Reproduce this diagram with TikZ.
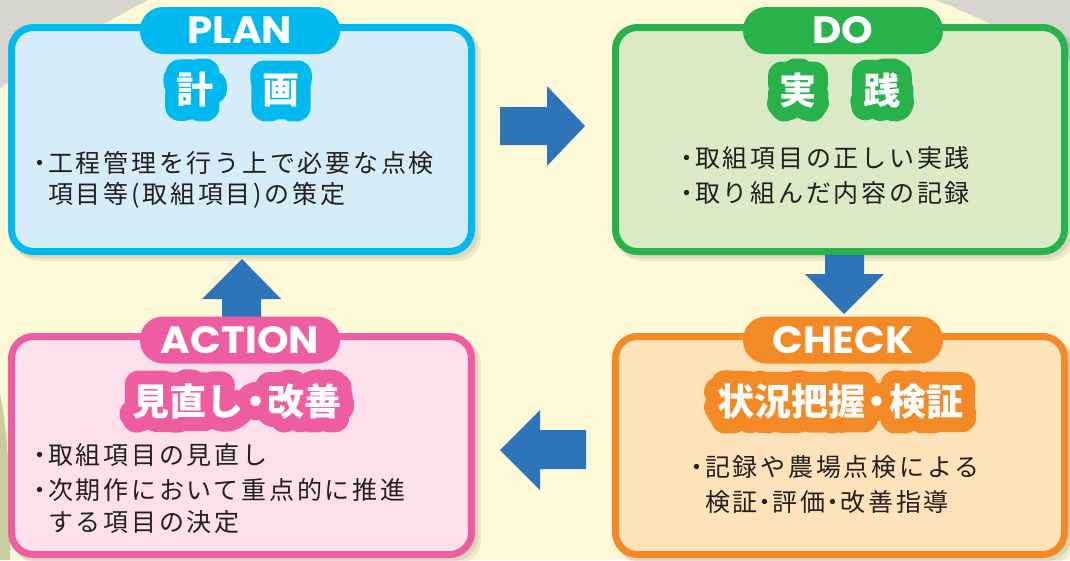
\documentclass[tikz,border=0pt]{standalone}
\usepackage{fontspec}
\usetikzlibrary{calc}
\newfontfamily\jp{Noto Sans CJK JP}[LetterSpace=11]
\newfontfamily\jpt{Noto Sans CJK JP}
\newfontfamily\jpo{Noto Sans CJK JP}[BoldFeatures={FakeBold=75}]
\newfontfamily\pop{Poppins}[FakeStretch=1.06]
\definecolor{bg}{HTML}{FEFAD8}
\definecolor{graybg}{HTML}{D6D6CF}
\definecolor{greenbg}{HTML}{C9CF9C}
\definecolor{cPlan}{HTML}{00B9EF}
\definecolor{fPlan}{HTML}{D6ECF8}
\definecolor{cDo}{HTML}{27B24B}
\definecolor{fDo}{HTML}{DBEAC6}
\definecolor{cAct}{HTML}{EE5CA1}
\definecolor{fAct}{HTML}{FCE1EC}
\definecolor{cChk}{HTML}{F48A25}
\definecolor{fChk}{HTML}{FEE3BA}
\definecolor{arrowc}{HTML}{2E74B8}
\definecolor{txt}{HTML}{231F20}
\newcommand\nk{\makebox[16pt][c]{・}}
\newcommand\sdot{\makebox[15pt][c]{・}}
\newcommand\tdot{\makebox[24pt][c]{・}}
\newcommand\titletext[4]{%
  \node[ttlo,text=#2] at (#1) {#3};
  \node[ttl,text=white] (#4) at (#1) {#3};}
\tikzset{
  ttl/.style={inner sep=0pt, font=\jpt\bfseries\fontsize{37}{37}\selectfont},
  ttlo/.style={inner sep=0pt, line join=round, line cap=round, font=\jpo\bfseries\fontsize{37}{37}\selectfont},
  boxnode/.style={draw=#1, line width=7pt, rounded corners=22pt, inner sep=0pt},
  tabnode/.style={fill=#1, rounded corners=23pt, minimum width=200pt, minimum height=47pt, inner sep=0pt, text=white, font=\pop\bfseries\fontsize{38}{38}\selectfont},
  bodyline/.style={anchor=west, inner sep=0pt, text=txt, font=\jp\fontsize{25}{30}\selectfont},
  blockarrow/.style={fill=arrowc},
  shadowbox/.style={fill=black, opacity=0.07, rounded corners=24pt}
}
\begin{document}
\begin{tikzpicture}[x=1pt,y=-1pt]
\useasboundingbox (0,0) rectangle (1070,560);
% background
\fill[bg] (0,0) rectangle (1070,560);
\fill[graybg] (0,0) -- (148,0) .. controls (100,25) and (50,55) .. (0,88) -- cycle;
\fill[graybg] (935,0) .. controls (965,10) and (1010,35) .. (1070,60) -- (1070,0) -- cycle;
\fill[greenbg] (0,395) .. controls (8,430) and (12,500) .. (10,560) -- (0,560) -- cycle;

% shadows
\foreach \s in {3,6}{
  \fill[shadowbox] (8+\s,24+\s) rectangle (475+\s,255+\s);
  \fill[shadowbox] (612+\s,24+\s) rectangle (1068+\s,255+\s);
  \fill[shadowbox] (8+\s,333+\s) rectangle (475+\s,558+\s);
  \fill[shadowbox] (612+\s,333+\s) rectangle (1068+\s,558+\s);
}

% block arrows (drawn under the boxes)
\fill[blockarrow] (500,107) -- (547,107) -- (547,86) -- (585,126) -- (547,166) -- (547,145) -- (500,145) -- cycle;
\fill[blockarrow] (825,250) -- (864,250) -- (864,274) -- (884,274) -- (844,314) -- (805,274) -- (825,274) -- cycle;
\fill[blockarrow] (586,430) -- (540,430) -- (540,410) -- (500,450) -- (540,490) -- (540,469) -- (586,469) -- cycle;
\fill[blockarrow] (222,322) -- (261,322) -- (261,299) -- (281,299) -- (242,259) -- (202,299) -- (222,299) -- cycle;

% boxes
\node[boxnode=cPlan, fill=fPlan, minimum width=460pt, minimum height=224pt] (plan) at (241.5,139.5) {};
\node[boxnode=cDo, fill=fDo, minimum width=449pt, minimum height=224pt] (do) at (840,139.5) {};
\node[boxnode=cAct, fill=fAct, minimum width=460pt, minimum height=218pt] (action) at (241.5,445.5) {};
\node[boxnode=cChk, fill=fChk, minimum width=449pt, minimum height=218pt] (check) at (840,445.5) {};

% tabs
\node[tabnode=cPlan] (plantab) at (240,30.5) {\raisebox{-2pt}{PLAN}};
\node[tabnode=cDo] (dotab) at (843,30.5) {\raisebox{-2pt}{DO}};
\node[tabnode=cAct] (acttab) at (240,340) {\raisebox{-2pt}{ACTION}};
\node[tabnode=cChk] (chktab) at (843,340) {\raisebox{-2pt}{CHECK}};

% titles
\coordinate (planT) at (238,90);
\coordinate (doT) at (840,90);
\coordinate (actT) at (237,401);
\coordinate (chkT) at (840,402);
\titletext{planT}{cPlan}{計\hspace{49pt}画}{plantitle}
\titletext{doT}{cDo}{実\hspace{47pt}践}{dotitle}
\titletext{actT}{cAct}{見直し\tdot 改善}{acttitle}
\titletext{chkT}{cChk}{状況把握\tdot 検証}{chktitle}

% body text
\node[bodyline] (plan1) at (32,163) {\nk 工程管理を行う上で必要な点検};
\node[bodyline] (plan2) at (32,195) {\hspace{16pt}項目等(取組項目)の策定};

\node[bodyline] (do1) at (679,158) {\nk 取組項目の正しい実践};
\node[bodyline] (do2) at (679,193) {\nk 取り組んだ内容の記録};

\node[bodyline] (act1) at (32,455) {\nk 取組項目の見直し};
\node[bodyline] (act2) at (32,490) {\nk 次期作において重点的に推進};
\node[bodyline] (act3) at (32,522) {\hspace{16pt}する項目の決定};

\node[bodyline] (chk1) at (689,467) {\nk 記録や農場点検による};
\node[bodyline] (chk2) at (689,502) {\hspace{16pt}検証\sdot 評価\sdot 改善指導};
\end{tikzpicture}
\end{document}
